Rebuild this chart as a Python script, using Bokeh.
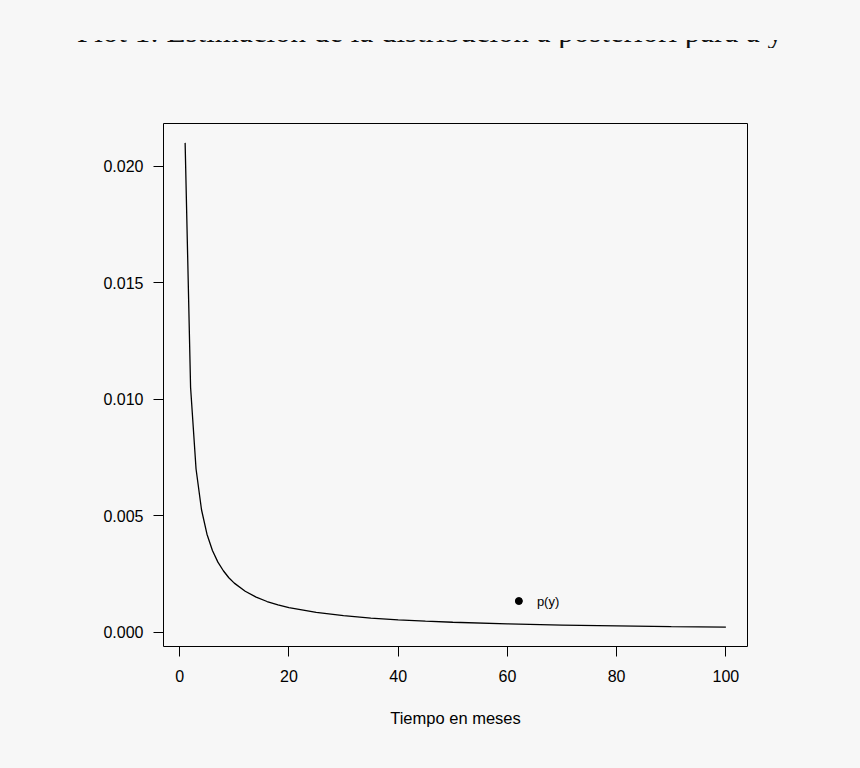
from bokeh.plotting import figure
from bokeh.models import Range1d, FixedTicker, Div, ColumnDataSource
from bokeh.layouts import column
from bokeh.core.properties import value
from bokeh.embed import file_html
from bokeh.resources import INLINE

# ---- data ----
months = [1, 2, 3, 4, 5, 6, 7, 8, 9, 10, 12, 14, 16, 18, 20, 25, 30, 35, 40, 45,
          50, 60, 70, 80, 90, 100]
p_y = [0.0210, 0.0105, 0.0070, 0.00525, 0.0042, 0.0035, 0.0030, 0.00263, 0.00233,
       0.0021, 0.00175, 0.0015, 0.00131, 0.00117, 0.00105, 0.00084, 0.0007, 0.0006,
       0.000525, 0.000467, 0.00042, 0.00035, 0.0003, 0.000263, 0.000233, 0.00021]
x_ticks = [0, 20, 40, 60, 80, 100]
y_ticks = [0.0, 0.005, 0.010, 0.015, 0.020]
y_tick_labels = ["0.000", "0.005", "0.010", "0.015", "0.020"]
legend_x = [62.1]
legend_y = [0.00133]
legend_text_x = [65.4]
legend_labels = ["p(y)"]
title_text = "Plot 1: Estimación de la distribución a posteriori para a y"
x_label = "Tiempo en meses"

BG = "#f7f7f7"
FONT = "Liberation Sans"

# R-style 4% range extension
xmin, xmax = min(months), max(months)
ymin, ymax = min(p_y), max(p_y)
dx = (xmax - xmin) * 0.04
dy = (ymax - ymin) * 0.04

p = figure(width=860, height=720, output_backend="svg", toolbar_location=None,
           x_range=Range1d(xmin - dx, xmax + dx), y_range=Range1d(ymin - dy, ymax + dy),
           min_border_left=163, min_border_right=113, min_border_top=75,
           min_border_bottom=122,
           background_fill_color=BG, border_fill_color=BG,
           outline_line_color="black", outline_line_width=1)
p.grid.visible = False

src = ColumnDataSource(dict(x=months, y=p_y))
p.line("x", "y", source=src, line_color="black", line_width=1.3)

leg = ColumnDataSource(dict(x=legend_x, y=legend_y, tx=legend_text_x, t=legend_labels))
p.scatter("x", "y", source=leg, size=7, color="black")
p.text("tx", "y", text="t", source=leg, text_font=value(FONT), text_font_size="13px",
       text_baseline="middle", text_align="left", text_color="black")

for ax in (p.xaxis[0], p.yaxis[0]):
    ax.axis_line_color = None
    ax.major_tick_line_color = "black"
    ax.major_tick_in = 0
    ax.major_tick_out = 10
    ax.minor_tick_line_color = None
    ax.major_label_text_font = FONT
    ax.major_label_text_font_size = "16px"
    ax.major_label_text_color = "black"

p.xaxis.ticker = FixedTicker(ticks=x_ticks)
p.yaxis.ticker = FixedTicker(ticks=y_ticks)
p.yaxis.major_label_overrides = {t: l for t, l in zip(y_ticks, y_tick_labels)}
p.xaxis.major_label_standoff = 13
p.yaxis.major_label_standoff = 10
p.yaxis.major_label_orientation = "horizontal"

p.xaxis.axis_label = x_label
p.xaxis.axis_label_text_font = FONT
p.xaxis.axis_label_text_font_size = "16.5px"
p.xaxis.axis_label_text_font_style = "normal"
p.xaxis.axis_label_text_color = "black"
p.xaxis.axis_label_standoff = 24

# title: in the reference only the bottom sliver of it is visible (cut off at the top)
title_html = (
    '<div style="position:relative;width:860px;height:48px;overflow:hidden;margin:0;padding:0">'
    '<div style="position:absolute;left:0;top:16px;width:860px;text-align:center;'
    'font-family:\'Liberation Serif\';font-size:31px;line-height:31px;color:#111;'
    'white-space:nowrap;margin:0;padding:0">' + title_text + '</div>'
    '<div style="position:absolute;left:0;top:0;width:860px;height:40px;'
    'background-color:' + BG + ';z-index:2"></div></div>'
)
title_div = Div(text=title_html, width=860, height=48, margin=(0, 0, 0, 0),
                styles={"margin": "0", "padding": "0"})

layout = column(title_div, p, styles={"background-color": BG})

open("out.html", "w").write(file_html(layout, INLINE))
